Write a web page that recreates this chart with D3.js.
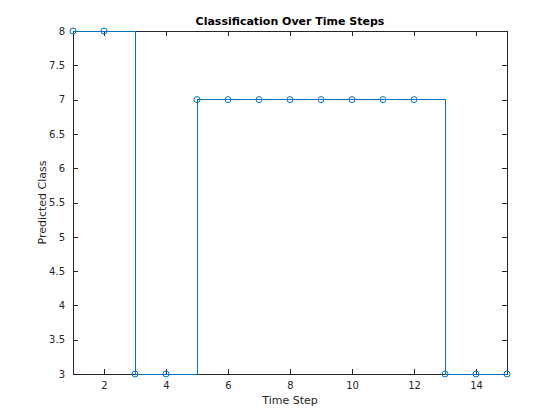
<!DOCTYPE html>
<html>
<head>
<meta charset="utf-8">
<script src="https://cdn.jsdelivr.net/npm/d3@7"></script>
<style>
  body { margin: 0; background: #fff; }
  text { font-family: "DejaVu Sans", sans-serif; }
</style>
</head>
<body>
<div id="container"></div>
<script>
// data
var timeSteps = [1, 2, 3, 4, 5, 6, 7, 8, 9, 10, 11, 12, 13, 14, 15];
var predicted = [8, 8, 3, 3, 7, 7, 7, 7, 7, 7, 7, 7, 3, 3, 3];
var xTicks = [2, 4, 6, 8, 10, 12, 14];
var yTicks = [3, 3.5, 4, 4.5, 5, 5.5, 6, 6.5, 7, 7.5, 8];

var width = 560, height = 420;
var margin = {left: 73, right: 53, top: 31, bottom: 46};
var axisColor = "#262626";
var lineColor = "#0072bd";

var svg = d3.select("#container").append("svg")
  .attr("width", width).attr("height", height);

var x = d3.scaleLinear().domain([1, 15]).range([margin.left, width - margin.right]);
var y = d3.scaleLinear().domain([3, 8]).range([height - margin.bottom, margin.top]);

var data = timeSteps.map(function(t, i) { return {t: t, c: predicted[i]}; });

// box
svg.append("rect")
  .attr("x", x(1)).attr("y", y(8))
  .attr("width", x(15) - x(1)).attr("height", y(3) - y(8))
  .attr("fill", "none").attr("stroke", axisColor).attr("stroke-width", 1)
  .attr("shape-rendering", "crispEdges");

// axes with inward ticks
var xAxis = svg.append("g")
  .attr("transform", "translate(0," + y(3) + ")")
  .call(d3.axisBottom(x).tickValues(xTicks).tickSizeInner(-5).tickSizeOuter(0).tickPadding(8));
var xTop = svg.append("g")
  .attr("transform", "translate(0," + y(8) + ")")
  .call(d3.axisTop(x).tickValues(xTicks).tickSizeInner(-5).tickSizeOuter(0).tickFormat(""));
var yAxis = svg.append("g")
  .attr("transform", "translate(" + x(1) + ",0)")
  .call(d3.axisLeft(y).tickValues(yTicks).tickSizeInner(-5).tickSizeOuter(0).tickPadding(8)
    .tickFormat(function(d) { return d3.format("")(d); }));
var yRight = svg.append("g")
  .attr("transform", "translate(" + x(15) + ",0)")
  .call(d3.axisRight(y).tickValues(yTicks).tickSizeInner(-5).tickSizeOuter(0).tickFormat(""));

[xAxis, xTop, yAxis, yRight].forEach(function(g) {
  g.select(".domain").remove();
  g.selectAll("line").attr("stroke", axisColor).attr("shape-rendering", "crispEdges");
  g.selectAll("text").attr("fill", axisColor).style("font-size", "10px");
});

// stairs line
var line = d3.line()
  .x(function(d) { return x(d.t); })
  .y(function(d) { return y(d.c); })
  .curve(d3.curveStepAfter);

svg.append("path")
  .datum(data)
  .attr("d", line)
  .attr("fill", "none")
  .attr("stroke", lineColor)
  .attr("stroke-width", 1)
  .attr("shape-rendering", "crispEdges");

svg.append("g").selectAll("circle")
  .data(data).enter().append("circle")
  .attr("cx", function(d) { return x(d.t); })
  .attr("cy", function(d) { return y(d.c); })
  .attr("r", 3)
  .attr("fill", "none")
  .attr("stroke", lineColor)
  .attr("stroke-width", 1);

// labels
svg.append("text")
  .attr("x", (x(1) + x(15)) / 2).attr("y", 25)
  .attr("text-anchor", "middle")
  .style("font-size", "11px").style("font-weight", "bold")
  .attr("fill", "#000")
  .text("Classification Over Time Steps");

svg.append("text")
  .attr("x", (x(1) + x(15)) / 2).attr("y", 404)
  .attr("text-anchor", "middle")
  .style("font-size", "11px")
  .attr("fill", axisColor)
  .text("Time Step");

svg.append("text")
  .attr("transform", "translate(46," + (y(3) + y(8)) / 2 + ") rotate(-90)")
  .attr("text-anchor", "middle")
  .style("font-size", "11px")
  .attr("fill", axisColor)
  .text("Predicted Class");
</script>
</body>
</html>
